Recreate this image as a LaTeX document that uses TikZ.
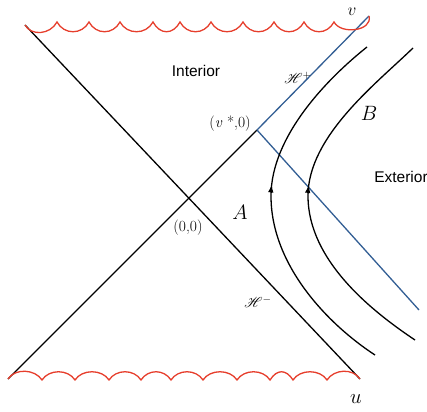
\documentclass[tikz,border=0pt]{standalone}
\usepackage{fontspec}
\usepackage{mathrsfs}
\newfontfamily\regionfont{Liberation Sans}
\usetikzlibrary{
	arrows.meta,
	decorations.markings
}
\definecolor{SingRed}{RGB}{230,62,44}
\definecolor{HorizonBlue}{RGB}{50,94,148}

\tikzset{
	nullline/.style={black, line width=1.3pt},
	horizonline/.style={HorizonBlue, line width=1.3pt},
	singularity/.style={SingRed, line width=1.3pt},
	orbit/.style={
		black,
		line width=1.3pt,
		decoration={
			markings,
			mark=at position #1 with {\arrow{Latex[length=8pt,width=5.5pt]}}
		},
		postaction={decorate}
	},
	region/.style={font=\regionfont\fontsize{15.5}{18}\selectfont},
	serifl/.style={font=\fontsize{15.5}{18}\selectfont}
}

\begin{document}
\begin{tikzpicture}[x=1pt,y=-1pt]
				
				\useasboundingbox (0,0) rectangle (427,411);
				
				% corners of the diagram
				\coordinate (topleft) at (25,25);
				\coordinate (topright) at (369,16);
				\coordinate (botleft) at (8,379);
				\coordinate (botright) at (360,379);
				\coordinate (vstar) at (257,130);
				\coordinate (blueend) at (419,310);
				
				% null lines
				\draw[nullline] (topleft) -- (botright);
				\draw[nullline] (botleft) -- (vstar);
				\draw[horizonline] (vstar) -- (topright);
				\draw[horizonline] (vstar) -- (blueend);
				
				% singularities
				\draw[singularity] (topleft)
				.. controls +(6,11) and +(-7,13) .. (57,22)
				\foreach \x in {89,120,153,180,211,243,274,304,334} {
					.. controls +(7,13) and +(-7,13) .. (\x,22)
				}
				.. controls +(7,13) and +(4,15) .. (topright);
				
				\draw[singularity] (botleft)
				\foreach \x in {42,75,109,141,171,203,237,270,293,327} {
					.. controls +(7,-11) and +(-7,-11) .. (\x,380)
				}
				.. controls +(7,-11) and +(-7,-11) .. (botright);
				
				% worldlines
				\draw[orbit=0.55] (375,355)
				.. controls (329,325) and (271,266) .. (271,196)
				.. controls (271,136) and (328,78) .. (367,47);
				\draw[orbit=0.53] (415,340)
				.. controls (373,312) and (308,261) .. (308,196)
				.. controls (308,136) and (377,83) .. (413,48);
				
				% labels
				\node[region] (interior) at (196,71) {Interior};
				\node[region] (exterior) at (401,177) {Exterior};
				\node[serifl] (hplus) at (298,78) {$\mathscr{H}^{+}$};
				\node[serifl] (hminus) at (258,302) {$\mathscr{H}^{-}$};
				\node[serifl] (vstarlab) at (230,124) {(\textit{v} *,0)};
				\node[serifl] (origin) at (188,228) {(0,0)};
				\node[font=\fontsize{20}{22}\selectfont] (alab) at (240,212) {$A$};
				\node[font=\fontsize{21}{23}\selectfont] (blab) at (369,113) {$B$};
				\node[font=\fontsize{19}{21}\selectfont, anchor=base, inner sep=0pt] (vlab) at (352,16) {$v$};
				\node[font=\fontsize{22}{24}\selectfont, anchor=base, inner sep=0pt] (ulab) at (356,403) {$u$};
				
			\end{tikzpicture}
\end{document}
